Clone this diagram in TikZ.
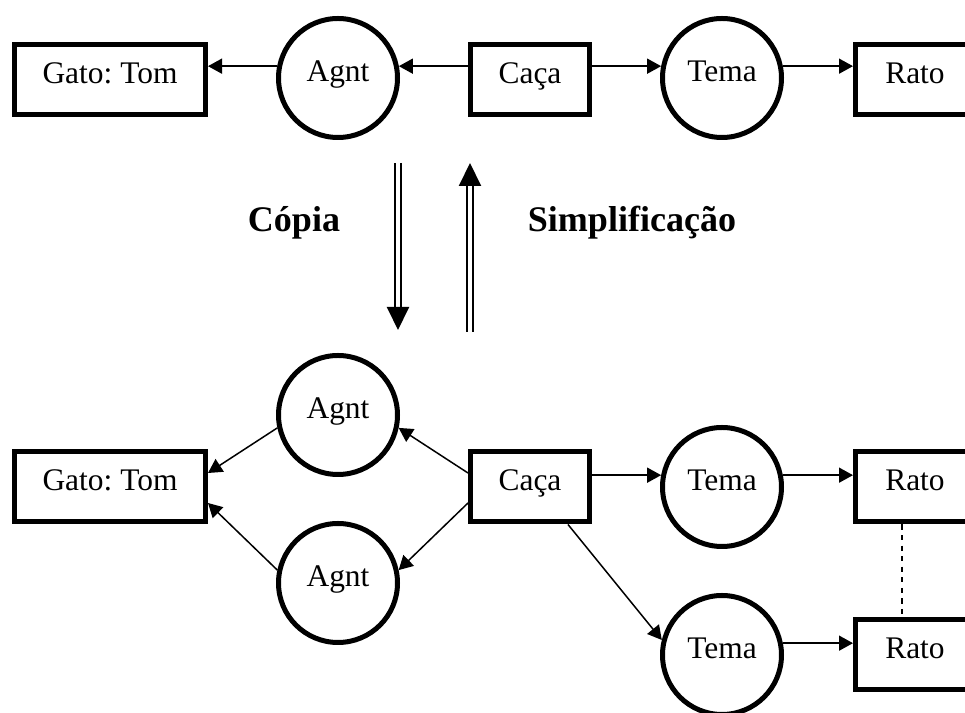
\documentclass[tikz,border=0pt]{standalone}
\usepackage{fontspec}
\setmainfont{Liberation Serif}
\usetikzlibrary{arrows.meta}
\frenchspacing

\begin{document}
\begin{tikzpicture}[font=\fontsize{17.9}{21}\selectfont,
    conc/.style={draw, line width=0.1cm, minimum width=2.38cm, minimum height=1.4cm, inner sep=0pt, text height=0.7em, text depth=0.3em},
    rel/.style={draw, circle, line width=0.1cm, minimum size=2.38cm, inner sep=0pt, text height=0.7em, text depth=0.3em},
    link/.style={line width=0.03cm, -{Triangle[length=0.28cm, width=0.3cm]}},
    dbl/.style={double, line width=0.04cm, double distance=0.07cm, -{Triangle[length=0.46cm, width=0.44cm]}},
    lbl/.style={font=\bfseries\fontsize{20.5}{24}\selectfont, anchor=base}]
  \useasboundingbox (0, 0) rectangle (19.3, 14.26);

  \node[conc, minimum width=3.82cm] (gato1) at (2.2, 12.67) {Gato: Tom};
  \node[rel] (agnt1) at (6.76, 12.7) {Agnt};
  \node[conc] (caca1) at (10.6, 12.67) {Caça};
  \node[rel] (tema1) at (14.44, 12.7) {Tema};
  \node[conc] (rato1) at (18.3, 12.67) {Rato};
  \draw[link] (agnt1.169) -- (gato1.east |- agnt1.169);
  \draw[link] (caca1.west |- agnt1.11) -- (agnt1.11);
  \draw[link] (caca1.east |- tema1.169) -- (tema1.169);
  \draw[link] (tema1.11) -- (rato1.west |- tema1.11);

  % copia / simplificacao
  \coordinate (d1) at (7.96, 11.0);
  \coordinate (d2) at (7.96, 7.66);
  \coordinate (u1) at (9.4, 7.62);
  \coordinate (u2) at (9.4, 11.0);
  \draw[dbl] (d1) -- (d2);
  \draw[dbl] (u1) -- (u2);
  \node[lbl] (copia) at (5.88, 9.62) {Cópia};
  \node[lbl] (simpl) at (12.64, 9.62) {Simplificação};

  \node[conc, minimum width=3.82cm] (gato2) at (2.2, 4.52) {Gato: Tom};
  \node[rel] (agnt2) at (6.76, 5.96) {Agnt};
  \node[rel] (agnt3) at (6.76, 2.6) {Agnt};
  \node[conc] (caca2) at (10.6, 4.52) {Caça};
  \node[rel] (tema2) at (14.44, 4.52) {Tema};
  \node[conc] (rato2) at (18.3, 4.52) {Rato};
  \node[rel] (tema3) at (14.44, 1.16) {Tema};
  \node[conc] (rato3) at (18.3, 1.16) {Rato};
  \draw[link] (agnt2.192) -- ([yshift=.28cm]gato2.east);
  \draw[link] (agnt3.168) -- ([yshift=-.32cm]gato2.east);
  \draw[link] ([yshift=.28cm]caca2.west) -- (agnt2.-12);
  \draw[link] ([yshift=-.32cm]caca2.west) -- (agnt3.12);
  \draw[link] (caca2.east |- tema2.169) -- (tema2.169);
  \draw[link] (tema2.11) -- (rato2.west |- tema2.11);
  \draw[link] ([xshift=.76cm]caca2.south) -- (tema3.166);
  \draw[link] (tema3.11) -- (rato3.west |- tema3.11);
  \draw[dashed, line width=0.03cm] ([xshift=-.26cm]rato2.south) -- ([xshift=-.26cm]rato3.north);
\end{tikzpicture}
\end{document}
